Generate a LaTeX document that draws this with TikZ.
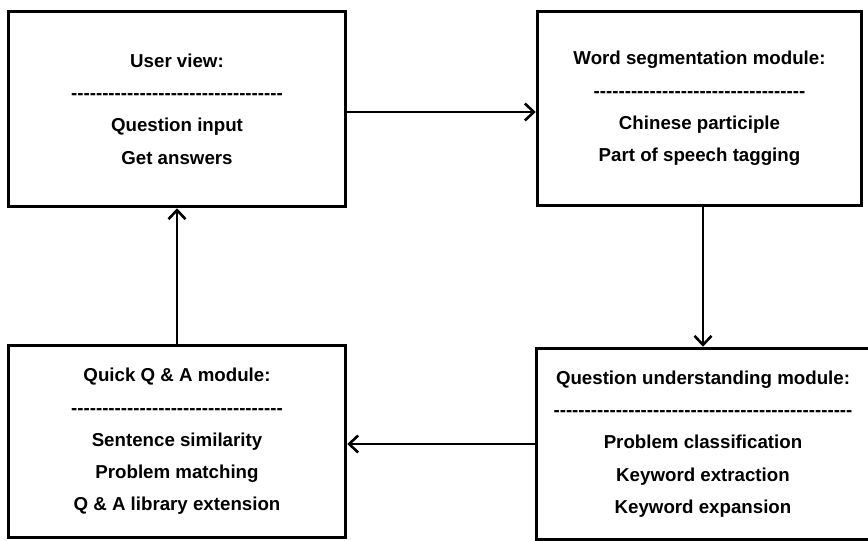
\documentclass[tikz,border=0pt]{standalone}
\usepackage{fontspec}
\setmainfont{Liberation Sans}[Ligatures=TeXOff]
\usetikzlibrary{arrows.meta}

\newcommand{\dashrow}[1]{\foreach \i in {1,...,#1}{-}}

\begin{document}
\begin{tikzpicture}
[
    x=1pt, y=-1pt,
    module/.style={draw, line width=3.5pt, align=center, inner sep=0pt,
        font=\fontsize{18.7}{32.3}\selectfont\bfseries},
    flow/.style={line width=2.6pt, -{Straight Barb[length=9pt,width=17pt]}},
]
\clip (0,0) rectangle (868,541);
% boxes
\node [module, minimum width=337, minimum height=195] (user) at (177,109)
{User view:\\ \dashrow{34}\\ Question input\\ Get answers};
\node [module, minimum width=324, minimum height=194] (seg) at (699.5,108.5)
{Word segmentation module:\\ \dashrow{34}\\ Chinese participle\\ Part of speech tagging};
\node [module, minimum width=337, minimum height=192] (quick) at (177,441.5)
{Quick Q \& A module:\\ \dashrow{34}\\ Sentence similarity\\ Problem matching\\ Q \& A library extension};
\node [module, minimum width=333, minimum height=191] (under) at (703,444)
{Question understanding module:\\ \dashrow{48}\\ Problem classification\\ Keyword extraction\\ Keyword expansion};
% arrows
\draw [flow] ([yshift=-3pt]user.east) -- ([yshift=-3pt]user.east -| seg.west);
\draw [flow] (under.north |- seg.south) -- (under.north);
\draw [flow] (under.west) -- (under.west -| quick.east);
\draw [flow] (quick.north) -- (user.south);
\end{tikzpicture}
\end{document}
